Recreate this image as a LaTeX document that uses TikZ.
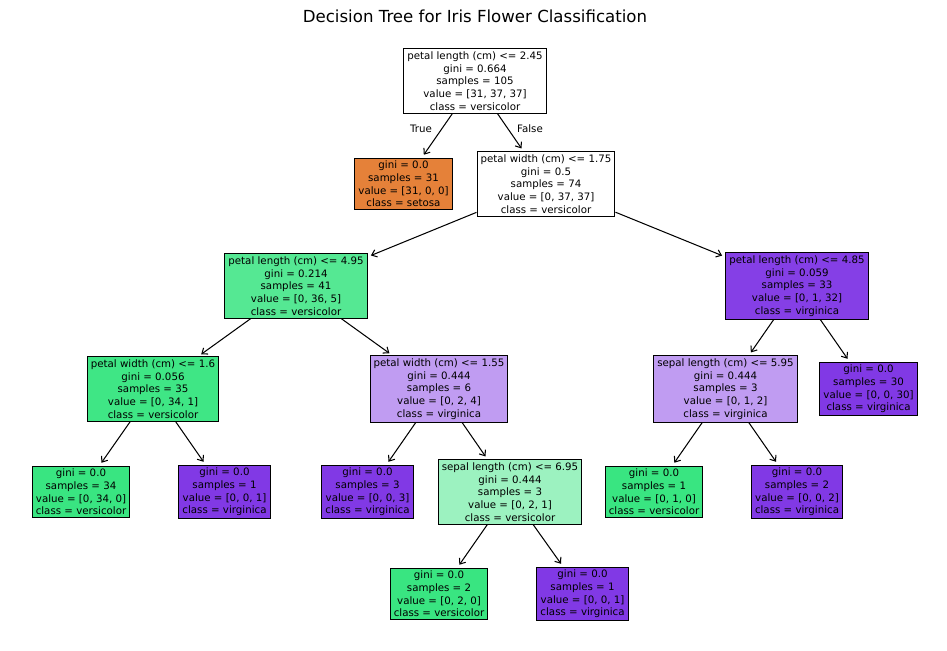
\documentclass[tikz,border=0pt]{standalone}
\usepackage{fontspec}
\usetikzlibrary{arrows.meta}
\setmainfont{DejaVu Sans}
\definecolor{setosa}{HTML}{E58139}
\definecolor{versi}{HTML}{39E581}
\definecolor{virgi}{HTML}{8139E5}
\definecolor{versiA}{HTML}{55E893}
\definecolor{versiB}{HTML}{3FE685}
\definecolor{versiC}{HTML}{9CF2C0}
\definecolor{virgiA}{HTML}{C09CF2}
\definecolor{virgiB}{HTML}{853FE6}
\begin{document}
\begin{tikzpicture}[x=0.7227pt,y=-0.7227pt,line width=0.75pt,
    >={Straight Barb[length=3.5pt,width=5.5pt]},
    box/.style={draw,rectangle,align=center,inner xsep=2.6pt,inner ysep=2.2pt,
      font=\fontsize{7.4}{9.1}\selectfont}]
  \useasboundingbox (0,0) rectangle (947,651);
  \node (title) at (475,16) {\fontsize{12}{14}\selectfont Decision Tree for Iris Flower Classification};
  % level 0 and 1
  \node[box] (n0) at (475,81) {petal length (cm) <= 2.45\\gini = 0.664\\samples = 105\\value = [31, 37, 37]\\class = versicolor};
  \node[box,fill=setosa] (n1) at (403.5,184) {gini = 0.0\\samples = 31\\value = [31, 0, 0]\\class = setosa};
  \node[box] (n2) at (546,184) {petal width (cm) <= 1.75\\gini = 0.5\\samples = 74\\value = [0, 37, 37]\\class = versicolor};
  % level 2
  \node[box,fill=versiA] (n3) at (296,286) {petal length (cm) <= 4.95\\gini = 0.214\\samples = 41\\value = [0, 36, 5]\\class = versicolor};
  \node[box,fill=virgiB] (n4) at (797,286) {petal length (cm) <= 4.85\\gini = 0.059\\samples = 33\\value = [0, 1, 32]\\class = virginica};
  % level 3
  \node[box,fill=versiB] (n5) at (153,389) {petal width (cm) <= 1.6\\gini = 0.056\\samples = 35\\value = [0, 34, 1]\\class = versicolor};
  \node[box,fill=virgiA] (n6) at (439,389) {petal width (cm) <= 1.55\\gini = 0.444\\samples = 6\\value = [0, 2, 4]\\class = virginica};
  \node[box,fill=virgiA] (n7) at (725.5,389) {sepal length (cm) <= 5.95\\gini = 0.444\\samples = 3\\value = [0, 1, 2]\\class = virginica};
  \node[box,fill=virgi] (n8) at (868.5,389) {gini = 0.0\\samples = 30\\value = [0, 0, 30]\\class = virginica};
  % level 4
  \node[box,fill=versi] (n9) at (81,492) {gini = 0.0\\samples = 34\\value = [0, 34, 0]\\class = versicolor};
  \node[box,fill=virgi] (n10) at (224.5,492) {gini = 0.0\\samples = 1\\value = [0, 0, 1]\\class = virginica};
  \node[box,fill=virgi] (n11) at (367.5,492) {gini = 0.0\\samples = 3\\value = [0, 0, 3]\\class = virginica};
  \node[box,fill=versiC] (n12) at (510,492) {sepal length (cm) <= 6.95\\gini = 0.444\\samples = 3\\value = [0, 2, 1]\\class = versicolor};
  \node[box,fill=versi] (n13) at (654,492) {gini = 0.0\\samples = 1\\value = [0, 1, 0]\\class = versicolor};
  \node[box,fill=virgi] (n14) at (797,492) {gini = 0.0\\samples = 2\\value = [0, 0, 2]\\class = virginica};
  % level 5
  \node[box,fill=versi] (n15) at (439,594) {gini = 0.0\\samples = 2\\value = [0, 2, 0]\\class = versicolor};
  \node[box,fill=virgi] (n16) at (582.5,594) {gini = 0.0\\samples = 1\\value = [0, 0, 1]\\class = virginica};
  \node[font=\fontsize{7.4}{9.1}\selectfont] (t) at (421,129) {True};
  \node[font=\fontsize{7.4}{9.1}\selectfont] (f) at (530,129) {False};
  \foreach \a/\b in {n0/n1,n0/n2,n2/n3,n2/n4,n3/n5,n3/n6,n4/n7,n4/n8,n5/n9,n5/n10,n6/n11,n6/n12,n7/n13,n7/n14,n12/n15,n12/n16}
    \draw[->,shorten >=2.5pt] (\a) -- (\b);
\end{tikzpicture}
\end{document}
